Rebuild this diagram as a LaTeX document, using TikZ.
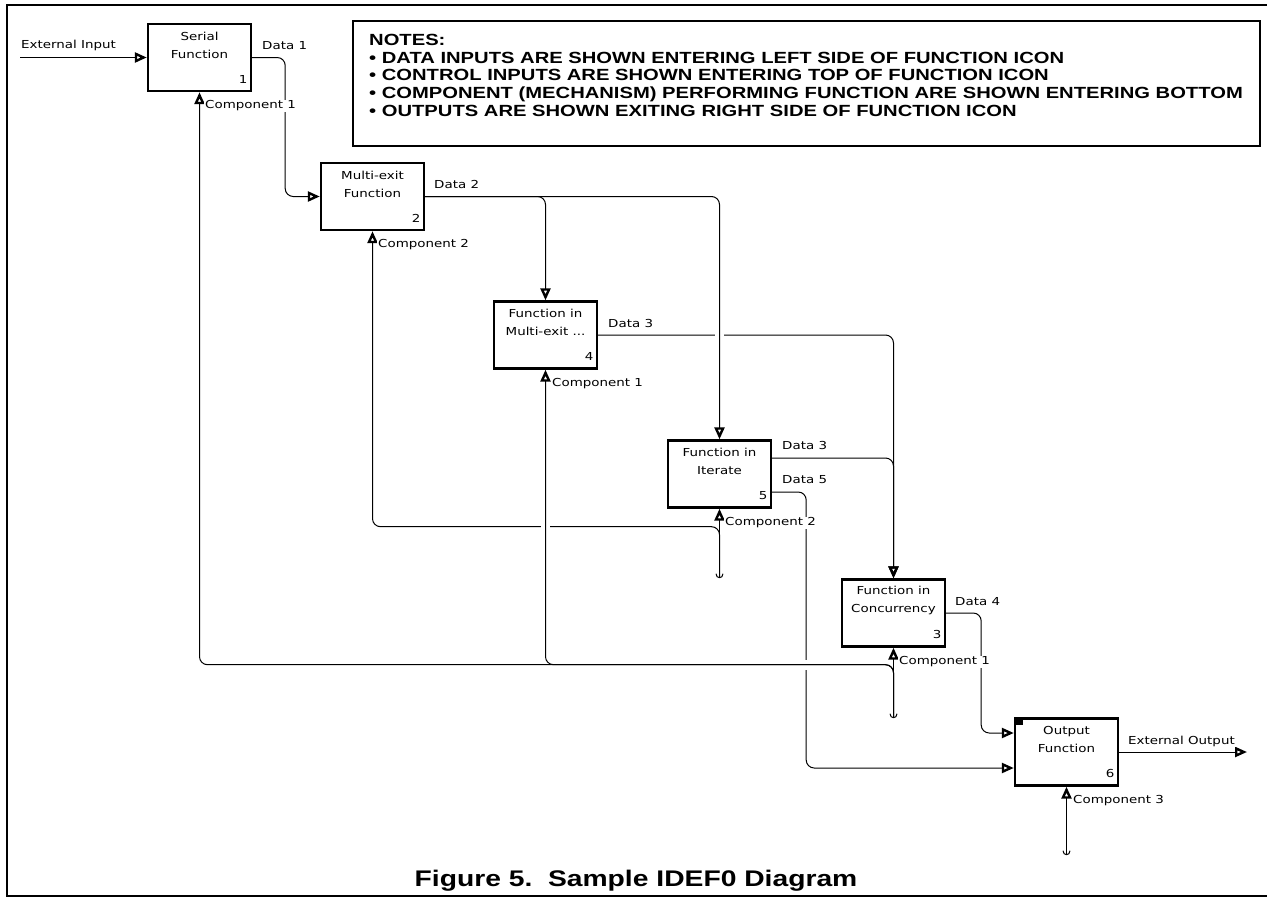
\documentclass[tikz,border=0pt]{standalone}
\usepackage{fontspec}
\usetikzlibrary{arrows.meta,calc}
\newfontfamily\lblfont[FakeStretch=1.22]{DejaVu Sans}
\newfontfamily\notefont[FakeStretch=1.25]{Liberation Sans}

\tikzset{
  fn/.style={draw, line width=2.4pt, minimum width=103pt, minimum height=67pt, inner sep=0pt},
  fntext/.style={font=\lblfont\fontsize{11}{18}\selectfont, align=center, inner sep=0pt},
  fnnum/.style={font=\lblfont\fontsize{11}{13}\selectfont, inner sep=0pt},
  flow/.style={line width=1pt, rounded corners=8pt,
    -{Triangle[open,length=12pt,width=10pt,line width=2.4pt]}},
  lbl/.style={font=\lblfont\fontsize{11}{13}\selectfont, anchor=west, fill=white, inner sep=1pt},
  gap/.style={fill=white},
}

\begin{document}
\begin{tikzpicture}[x=1pt,y=-1pt]
\useasboundingbox (0,0) rectangle (1267,897);

% sheet frame
\draw[line width=2pt] (1267,5) -- (7,5) -- (7,896) -- (1267,896);

% notes panel
\node[draw, line width=1.8pt, minimum width=907pt, minimum height=125pt, inner sep=0pt] (notes) at (806.5,83.5) {};
\node[anchor=north west, align=left, inner sep=0pt,
      font=\notefont\bfseries\fontsize{16.15}{17.7}\selectfont] (notetext) at (369,34)
  {NOTES:\\
   • DATA INPUTS ARE SHOWN ENTERING LEFT SIDE OF FUNCTION ICON\\
   • CONTROL INPUTS ARE SHOWN ENTERING TOP OF FUNCTION ICON\\
   • COMPONENT (MECHANISM) PERFORMING FUNCTION ARE SHOWN ENTERING BOTTOM\\
   • OUTPUTS ARE SHOWN EXITING RIGHT SIDE OF FUNCTION ICON};

% function boxes
\node[fn] (b1) at (199.5,57.5) {};
\node[fn] (b2) at (372.5,196.5) {};
\node[fn] (b4) at (545.5,335) {};
\node[fn] (b5) at (719.5,474) {};
\node[fn] (b3) at (893.5,613) {};
\node[fn] (b6) at (1066.5,752) {};
\fill ($(b6.north west)+(1,1)$) rectangle ++(8,7);

\node[fntext] (b1t) at ($(b1.center)+(0,-12.5)$) {Serial\\Function};
\node[fntext] (b2t) at ($(b2.center)+(0,-12.5)$) {Multi-exit\\Function};
\node[fntext] (b4t) at ($(b4.center)+(0,-12.5)$) {Function in\\Multi-exit ...};
\node[fntext] (b5t) at ($(b5.center)+(0,-12.5)$) {Function in\\Iterate};
\node[fntext] (b3t) at ($(b3.center)+(0,-12.5)$) {Function in\\Concurrency};
\node[fntext] (b6t) at ($(b6.center)+(0,-12.5)$) {Output\\Function};

\node[fnnum] (b1n) at ($(b1.south east)+(-9,-13)$) {1};
\node[fnnum] (b2n) at ($(b2.south east)+(-9,-13)$) {2};
\node[fnnum] (b4n) at ($(b4.south east)+(-9,-13)$) {4};
\node[fnnum] (b5n) at ($(b5.south east)+(-9,-13)$) {5};
\node[fnnum] (b3n) at ($(b3.south east)+(-9,-13)$) {3};
\node[fnnum] (b6n) at ($(b6.south east)+(-9,-13)$) {6};

% free ends and junctions
\coordinate (extin) at (20,57.5);
\coordinate (extout) at (1247,752);
\coordinate (t5) at ($(b5.south)+(0,69)$);
\coordinate (t3) at ($(b3.south)+(0,70)$);
\coordinate (t6) at ($(b6.south)+(0,68)$);
\coordinate (j5) at ($(b5.south)+(0,18)$);
\coordinate (j3) at ($(b3.south)+(0,17)$);
\coordinate (d5) at ($(b5.east)+(34,18)$);
\coordinate (c1) at (b5.north |- b4.east);
\coordinate (c2) at (b4.south |- j5);
\coordinate (c3) at (d5 |- j3);

% arrows passing underneath at crossings
\draw[flow] (b4.east) -| (b3.north);
\draw[flow] (t5) -- (j5) -| (b2.south);
\draw[flow] ($(b5.east)+(0,18)$) -- (d5) |- ($(b6.west)+(0,16)$);

% crossing gaps
\fill[gap] ($(c1)+(-4.5,-2)$) rectangle ($(c1)+(4.5,2)$);
\fill[gap] ($(c2)+(-4.5,-2)$) rectangle ($(c2)+(4.5,2)$);
\fill[gap] ($(c3)+(-2,-5)$) rectangle ($(c3)+(2,5)$);

% remaining arrows
\draw[flow] (extin) -- (b1.west);
\draw[flow] (b1.east) -- ++(33,0) |- (b2.west);
\draw[flow] (b2.east) -| (b4.north);
\draw[flow] (b2.east) -| (b5.north);
\draw[flow] ($(b5.east)+(0,-16)$) -| (b3.north);
\draw[flow] (b3.east) -- ++(35,0) |- ($(b6.west)+(0,-19)$);
\draw[flow] (b6.east) -- (extout);
\draw[flow] (t5) -- (b5.south);
\draw[flow] (t3) -- (b3.south);
\draw[flow] (t3) -- (j3) -| (b1.south);
\draw[flow] (t3) -- (j3) -| (b4.south);
\draw[flow] (t6) -- (b6.south);

% tunnel ends
\foreach \t in {t5,t3,t6}
  \draw[line width=1pt] ($(\t)+(-3.5,-4)$) .. controls ($(\t)+(-3.5,1.3)$) and ($(\t)+(3.5,1.3)$) .. ($(\t)+(3.5,-4)$);

% arrow labels
\node[lbl] (lextin) at (20,45) {External Input};
\node[lbl] (ld1) at (261,46) {Data 1};
\node[lbl] (lc1a) at (204,106) {Component 1};
\node[lbl] (ld2) at (433,184) {Data 2};
\node[lbl] (lc2a) at (377,245) {Component 2};
\node[lbl] (ld3a) at (607,323) {Data 3};
\node[lbl] (lc1b) at (551,384) {Component 1};
\node[lbl] (ld3b) at (781,445) {Data 3};
\node[lbl] (ld5) at (781,480) {Data 5};
\node[lbl] (lc2b) at (724,523) {Component 2};
\node[lbl] (ld4) at (954,602) {Data 4};
\node[lbl] (lc1c) at (898,662) {Component 1};
\node[lbl] (lextout) at (1127,741) {External Output};
\node[lbl] (lc3) at (1072,801) {Component 3};

% caption
\node[font=\notefont\bfseries\fontsize{22.6}{26}\selectfont, inner sep=0pt] (caption) at (636,881)
  {Figure 5.\ \ Sample IDEF0 Diagram};
\end{tikzpicture}
\end{document}
